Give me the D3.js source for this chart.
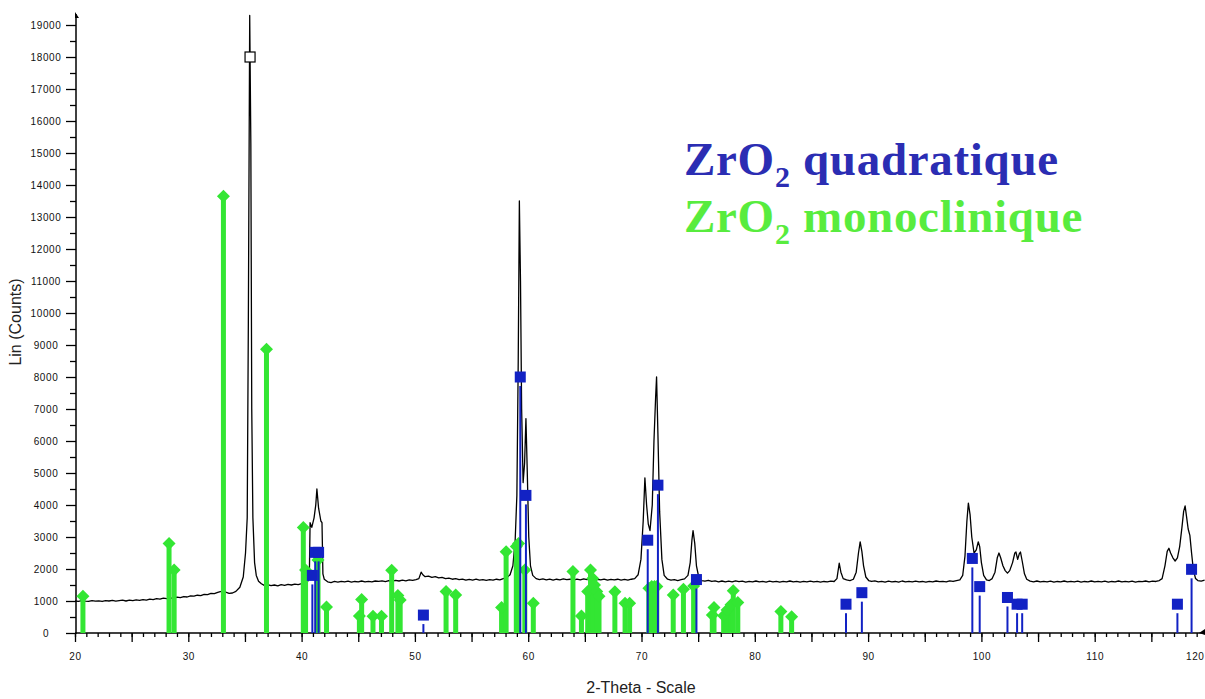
<!DOCTYPE html>
<html><head><meta charset="utf-8">
<script src="https://cdn.jsdelivr.net/npm/d3@7/dist/d3.min.js"></script>
<style>body{margin:0;background:#fff}svg{display:block}</style>
</head><body><svg id="c" width="1205" height="699"></svg>
<script>
// XRD scan: [2-theta, counts]
const scan = [
[20.0,1000],[20.3,985],[20.6,1010],[20.9,995],[21.2,990],[21.5,1015],[21.8,995],[22.1,1005],[22.4,985],[22.7,1010],
[23.0,1000],[23.3,1020],[23.6,995],[23.9,1010],[24.2,1025],[24.5,1000],[24.8,1030],[25.1,1015],[25.4,1035],[25.7,1020],
[26.0,1045],[26.3,1030],[26.6,1060],[26.9,1045],[27.2,1075],[27.5,1060],[27.8,1090],[28.1,1075],[28.4,1100],[28.7,1085],
[29.0,1120],[29.3,1105],[29.6,1140],[29.9,1125],[30.2,1160],[30.5,1150],[30.8,1180],[31.1,1170],[31.4,1210],[31.7,1200],
[32.0,1240],[32.3,1230],[32.6,1270],[32.9,1300],[33.1,1340],[33.3,1280],[33.6,1240],[33.9,1250],[34.2,1300],[34.55,1430],
[34.85,1750],[35.05,2500],[35.2,3600],[35.3,9700],[35.42,19300],[35.52,15300],[35.6,7000],[35.7,3600],[35.85,2200],[36.0,1800],
[36.2,1620],[36.45,1540],[36.7,1490],[37.0,1510],[37.3,1480],[37.6,1500],[37.9,1470],[38.2,1510],[38.5,1490],[38.8,1520],
[39.1,1500],[39.4,1530],[39.7,1515],[40.0,1545],[40.3,1560],[40.55,1620],[40.68,1700],[40.75,3450],[40.9,3300],[41.1,3600],
[41.25,4000],[41.35,4500],[41.5,3900],[41.7,3500],[41.8,3450],[41.88,1850],[42.0,1680],[42.3,1600],[42.6,1575],[42.9,1610],
[43.2,1590],[43.5,1615],[43.8,1595],[44.1,1620],[44.4,1590],[44.7,1610],[45.0,1600],[45.3,1625],[45.6,1600],[45.9,1615],
[46.2,1595],[46.5,1625],[46.8,1610],[47.1,1630],[47.4,1605],[47.7,1640],[48.0,1620],[48.3,1645],[48.6,1625],[48.9,1650],
[49.2,1630],[49.5,1660],[49.8,1645],[50.1,1670],[50.35,1700],[50.55,1900],[50.7,1820],[50.9,1760],[51.2,1780],[51.5,1740],
[51.8,1760],[52.1,1720],[52.4,1740],[52.7,1700],[53.0,1715],[53.3,1680],[53.6,1700],[53.9,1665],[54.2,1685],[54.5,1650],
[54.8,1675],[55.1,1655],[55.4,1680],[55.7,1650],[56.0,1670],[56.3,1645],[56.6,1665],[56.9,1650],[57.2,1680],[57.5,1660],
[57.8,1700],[58.1,1730],[58.4,1820],[58.65,2100],[58.85,2900],[59.0,4300],[59.12,8500],[59.22,13500],[59.32,11000],[59.42,7000],
[59.55,4700],[59.68,5300],[59.8,6700],[59.92,5000],[60.05,3000],[60.2,2100],[60.4,1800],[60.7,1700],[61.0,1665],[61.3,1690],
[61.6,1660],[61.9,1685],[62.2,1655],[62.5,1680],[62.8,1660],[63.1,1690],[63.4,1665],[63.7,1680],[64.0,1655],[64.3,1685],
[64.6,1660],[64.9,1690],[65.2,1670],[65.5,1695],[65.8,1665],[66.1,1680],[66.4,1660],[66.7,1685],[67.0,1650],[67.3,1675],
[67.6,1660],[67.9,1680],[68.2,1655],[68.5,1675],[68.8,1650],[69.1,1680],[69.4,1700],[69.7,1820],[69.95,2300],[70.15,3500],
[70.3,4850],[70.45,4000],[70.6,3400],[70.75,3200],[70.95,4000],[71.1,6000],[71.25,7400],[71.33,8000],[71.45,6200],[71.6,3800],
[71.8,2300],[72.0,1800],[72.3,1680],[72.6,1650],[72.9,1670],[73.2,1640],[73.5,1665],[73.8,1690],[74.1,1800],[74.3,2200],
[74.45,2900],[74.55,3200],[74.7,2800],[74.85,2100],[75.05,1750],[75.3,1640],[75.6,1620],[75.9,1645],[76.2,1610],[76.5,1630],
[76.8,1600],[77.1,1625],[77.4,1595],[77.7,1620],[78.0,1600],[78.3,1630],[78.6,1605],[78.9,1620],[79.2,1590],[79.5,1615],
[79.8,1600],[80.1,1625],[80.4,1595],[80.7,1610],[81.0,1590],[81.3,1620],[81.6,1600],[81.9,1615],[82.2,1590],[82.5,1610],
[82.8,1595],[83.1,1625],[83.4,1600],[83.7,1615],[84.0,1590],[84.3,1610],[84.6,1595],[84.9,1620],[85.2,1600],[85.5,1615],
[85.8,1590],[86.1,1610],[86.4,1600],[86.7,1620],[87.0,1610],[87.25,1700],[87.45,2180],[87.6,1900],[87.8,1700],[88.1,1660],
[88.4,1640],[88.7,1680],[88.95,1900],[89.15,2500],[89.3,2850],[89.45,2550],[89.6,2100],[89.8,1750],[90.05,1640],[90.3,1610],
[90.6,1630],[90.9,1600],[91.2,1615],[91.5,1590],[91.8,1620],[92.1,1600],[92.4,1610],[92.7,1590],[93.0,1625],[93.3,1600],
[93.6,1615],[93.9,1595],[94.2,1620],[94.5,1600],[94.8,1610],[95.1,1590],[95.4,1615],[95.7,1600],[96.0,1625],[96.3,1605],
[96.6,1615],[96.9,1600],[97.2,1630],[97.5,1610],[97.8,1640],[98.1,1660],[98.35,1800],[98.55,2400],[98.72,3500],[98.85,4060],
[99.0,3700],[99.15,3000],[99.35,2500],[99.55,2600],[99.72,2850],[99.85,2700],[100.0,2200],[100.2,1800],[100.45,1660],[100.7,1640],
[100.95,1700],[101.2,1900],[101.4,2350],[101.55,2500],[101.7,2350],[101.9,2100],[102.1,1950],[102.3,1870],[102.5,1950],[102.75,2200],
[102.95,2500],[103.05,2530],[103.2,2300],[103.35,2480],[103.45,2530],[103.6,2250],[103.8,1850],[104.0,1680],[104.3,1620],[104.6,1600],
[104.9,1625],[105.2,1595],[105.5,1615],[105.8,1600],[106.1,1620],[106.4,1590],[106.7,1610],[107.0,1600],[107.3,1625],[107.6,1595],
[107.9,1615],[108.2,1600],[108.5,1620],[108.8,1590],[109.1,1610],[109.4,1600],[109.7,1625],[110.0,1595],[110.3,1615],[110.6,1600],
[110.9,1620],[111.2,1590],[111.5,1610],[111.8,1600],[112.1,1625],[112.4,1595],[112.7,1615],[113.0,1600],[113.3,1620],[113.6,1590],
[113.9,1610],[114.2,1605],[114.5,1625],[114.8,1600],[115.1,1620],[115.4,1610],[115.7,1640],[115.95,1700],[116.2,2100],[116.4,2550],
[116.55,2650],[116.7,2500],[116.9,2350],[117.1,2250],[117.3,2350],[117.5,2700],[117.7,3300],[117.85,3800],[117.98,3970],[118.1,3650],
[118.25,3250],[118.4,3050],[118.55,2500],[118.7,2000],[118.9,1700],[119.1,1640],[119.4,1620],[119.7,1650]
];

// ZrO2 quadratique reference lines
const quadAngles = [40.95, 41.2, 41.5, 50.75, 59.3, 59.8, 70.55, 71.45, 74.85, 88.05, 89.45, 99.2, 99.85, 102.3, 103.15, 103.6, 117.3, 118.55];
const quadCounts = [1800, 2520, 2520, 560, 8000, 4300, 2900, 4620, 1670, 900, 1260, 2330, 1450, 1110, 900, 900, 900, 1990];
// strongest quadratique line (drawn as open marker)
const quadMainAngle = 35.45;
const quadMainCount = 18000;

// ZrO2 monoclinique reference lines
const monoAngles = [20.7, 28.3, 28.75, 33.1, 36.9, 40.15, 40.35, 41.45, 42.2, 45.1, 45.3, 46.3, 47.05, 47.95, 48.5, 48.7,
  52.75, 53.6, 57.65, 58.05, 58.95, 59.15, 59.7, 60.45, 63.95, 64.7, 65.25, 65.5, 65.7, 65.85, 66.05, 66.25,
  67.65, 68.55, 68.95, 70.65, 70.9, 71.15, 71.35, 72.8, 73.7, 74.6, 76.25, 76.4, 77.25, 77.55, 77.9, 78.1, 78.5, 82.3, 83.25];
const monoCounts = [1150, 2800, 1970, 13650, 8870, 3300, 1970, 2280, 810, 530, 1050, 520, 520, 1960, 1170, 1030,
  1300, 1190, 800, 2540, 2700, 2800, 1970, 930, 1920, 530, 1300, 1970, 1700, 1500, 1300, 1150,
  1290, 930, 930, 1400, 1450, 1450, 1450, 1190, 1370, 1470, 560, 800, 540, 720, 880, 1320, 950, 670, 510];

const xTickLabels = [20, 30, 40, 50, 60, 70, 80, 90, 100, 110, 120];
const yTickLabels = [0,1000,2000,3000,4000,5000,6000,7000,8000,9000,10000,11000,12000,13000,14000,15000,16000,17000,18000,19000];
const xTitle = "2-Theta - Scale";
const yTitle = "Lin (Counts)";
const legendNames = ["quadratique", "monoclinique"];

const BLUE = "#1222c4", GREEN = "#33e633";

const svg = d3.select("#c");
const x = d3.scaleLinear().domain([20, 120]).range([75, 1208]);
const y = d3.scaleLinear().domain([0, 19000]).range([633, 25]);

// ---- axes ----
const font = "'Liberation Sans', Arial, sans-serif";
const gx = svg.append("g").attr("transform", `translate(0,${y(0)})`);
gx.call(d3.axisBottom(x).tickValues(d3.range(20, 120, 1)).tickSize(4).tickFormat(""));
gx.call(g => g.select(".domain").remove());
const gx2 = svg.append("g").attr("transform", `translate(0,${y(0)})`);
gx2.call(d3.axisBottom(x).tickValues(d3.range(20, 121, 5)).tickSize(9).tickFormat(""));
gx2.call(g => g.select(".domain").remove());
const gx3 = svg.append("g").attr("transform", `translate(0,${y(0)})`);
gx3.call(d3.axisBottom(x).tickValues(xTickLabels).tickSize(0).tickPadding(20).tickFormat(d3.format("d")));
gx3.call(g => g.select(".domain").remove());
gx3.selectAll("text").attr("font-family", font).attr("font-size", 10).attr("fill", "#111").attr("letter-spacing", "0.6px");
// last label sits at the right edge: keep it fully visible
gx3.selectAll(".tick").filter(d => d === 120).select("text")
  .attr("text-anchor", "end").attr("x", 1204 - x(120));

const yAxisX = x(20) + 1;
const gy = svg.append("g").attr("transform", `translate(${yAxisX},0)`);
gy.call(d3.axisLeft(y).tickValues(d3.range(500, 19500, 1000)).tickSize(6).tickFormat(""));
gy.call(g => g.select(".domain").remove());
const gy2 = svg.append("g").attr("transform", `translate(${yAxisX},0)`);
gy2.call(d3.axisLeft(y).tickValues(yTickLabels).tickSize(10).tickFormat(d3.format("d")));
gy2.call(g => g.select(".domain").remove());
gy2.selectAll("text").attr("text-anchor", "middle").attr("x", -30)
  .attr("font-family", font).attr("font-size", 10).attr("fill", "#111").attr("letter-spacing", "0.6px");
svg.selectAll(".tick line").attr("stroke", "#000").attr("stroke-width", 1.3);

// axis lines with arrows
svg.append("line").attr("x1", yAxisX).attr("x2", yAxisX).attr("y1", y(0) + 1).attr("y2", 14)
  .attr("stroke", "#000").attr("stroke-width", 1.5);
svg.append("path").attr("d", `M${yAxisX - 1},12 L${yAxisX + 3},18 L${yAxisX - 1},18 Z`).attr("fill", "#000");
svg.append("line").attr("x1", x(20)).attr("x2", 1205).attr("y1", y(0)).attr("y2", y(0))
  .attr("stroke", "#000").attr("stroke-width", 1.5);
svg.append("path").attr("d", `M1205,${y(0) - 4} L1199,${y(0)} L1205,${y(0) + 2} Z`).attr("fill", "#000");

// titles
svg.append("text").attr("x", 641).attr("y", 693).attr("text-anchor", "middle")
  .attr("font-family", font).attr("font-size", 16).attr("fill", "#222").text(xTitle);
svg.append("text").attr("transform", "translate(21,322) rotate(-90)").attr("text-anchor", "middle")
  .attr("font-family", font).attr("font-size", 16).attr("fill", "#222").text(yTitle);

// ---- data line ----
const line = d3.line().x(d => x(d[0])).y(d => y(d[1]));
svg.append("path").datum(scan).attr("d", line).attr("fill", "none")
  .attr("stroke", "#000").attr("stroke-width", 1.3).attr("stroke-linejoin", "round");

// ---- monoclinic sticks ----
const mono = monoAngles.map((a, i) => ({a, c: monoCounts[i]}));
const gm = svg.append("g");
gm.selectAll("rect.stick").data(mono).join("rect")
  .attr("x", d => x(d.a) - 2.5).attr("width", 5)
  .attr("y", d => y(d.c)).attr("height", d => y(0) - y(d.c))
  .attr("fill", GREEN);
gm.selectAll("path.dia").data(mono).join("path")
  .attr("d", d => `M${x(d.a)},${y(d.c) - 6.5} L${x(d.a) + 6.5},${y(d.c)} L${x(d.a)},${y(d.c) + 6.5} L${x(d.a) - 6.5},${y(d.c)} Z`)
  .attr("fill", GREEN);

// ---- quadratic sticks ----
const quad = quadAngles.map((a, i) => ({a, c: quadCounts[i]}));
const gq = svg.append("g");
gq.selectAll("line").data(quad).join("line")
  .attr("x1", d => x(d.a)).attr("x2", d => x(d.a))
  .attr("y1", d => y(d.c) + 9).attr("y2", y(0))
  .attr("stroke", BLUE).attr("stroke-width", 2);
gq.selectAll("rect").data(quad).join("rect")
  .attr("x", d => x(d.a) - 5.5).attr("y", d => y(d.c) - 5.5).attr("width", 11).attr("height", 11)
  .attr("fill", BLUE);
svg.append("rect").attr("x", x(quadMainAngle) - 5).attr("y", y(quadMainCount) - 5)
  .attr("width", 10).attr("height", 10).attr("fill", "#fff").attr("stroke", "#000").attr("stroke-width", 1.2);

// ---- legend ----
const legColors = ["#2b2db3", "#58ec3e"];
legendNames.forEach((n, i) => {
  const t = svg.append("text").attr("x", 684).attr("y", 175 + i * 57)
    .attr("font-family", "'Liberation Serif', 'Times New Roman', serif").attr("font-weight", "bold")
    .attr("font-size", 47).attr("letter-spacing", "0.7px").attr("fill", legColors[i]);
  t.append("tspan").text("ZrO");
  t.append("tspan").attr("font-size", 30).attr("dy", 12).text("2");
  t.append("tspan").attr("dy", -12).text(" " + n);
});
</script>
</body></html>
